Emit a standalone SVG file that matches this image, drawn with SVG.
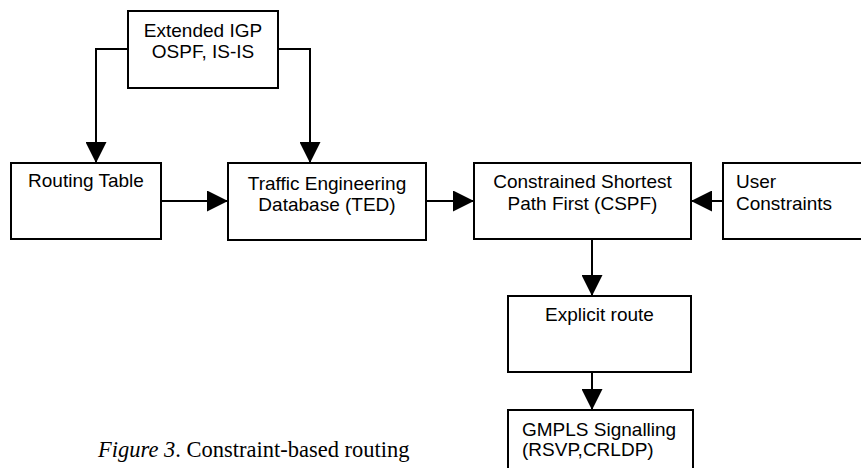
<svg xmlns="http://www.w3.org/2000/svg" width="861" height="468" viewBox="0 0 861 468">
<style>
.box{fill:#fff;stroke:#000;stroke-width:2}
.lbl{font-family:"Liberation Sans",Arial,sans-serif;font-size:19px;fill:#000}
.c{text-anchor:middle}
.con{fill:none;stroke:#000;stroke-width:2}
.cap{font-family:"Liberation Serif","Times New Roman",serif;font-size:22.5px;fill:#000}
</style>
<defs>
<marker id="ah" markerUnits="userSpaceOnUse" markerWidth="21" markerHeight="21" refX="20" refY="10" orient="auto" viewBox="0 0 20 20">
<path d="M0,0 L20,10 L0,20 z" fill="#000"/>
</marker>
</defs>
<rect width="861" height="468" fill="#fff"/>
<g id="connectors">
<path class="con" d="M128,49 H96 V163" marker-end="url(#ah)"/>
<path class="con" d="M278,49 H310 V163" marker-end="url(#ah)"/>
<path class="con" d="M161,201 H228" marker-end="url(#ah)"/>
<path class="con" d="M426,201 H474" marker-end="url(#ah)"/>
<path class="con" d="M723,201 H691" marker-end="url(#ah)"/>
<path class="con" d="M592,239 V296" marker-end="url(#ah)"/>
<path class="con" d="M592,372 V410" marker-end="url(#ah)"/>
</g>
<g id="igp">
<rect class="box" x="128" y="11" width="150" height="77"/>
<text class="lbl c" x="203" y="37">Extended IGP</text>
<text class="lbl c" x="203" y="58">OSPF, IS-IS</text>
</g>
<g id="routing-table">
<rect class="box" x="11" y="163" width="150" height="76"/>
<text class="lbl c" x="86" y="187">Routing Table</text>
</g>
<g id="ted">
<rect class="box" x="228" y="163" width="198" height="77"/>
<text class="lbl c" x="327" y="190">Traffic Engineering</text>
<text class="lbl c" x="327" y="211">Database (TED)</text>
</g>
<g id="cspf">
<rect class="box" x="474" y="163" width="217" height="76"/>
<text class="lbl c" x="582.5" y="188">Constrained Shortest</text>
<text class="lbl c" x="582.5" y="210">Path First (CSPF)</text>
</g>
<g id="user">
<rect class="box" x="723" y="163" width="160" height="76"/>
<text class="lbl" x="736" y="188">User</text>
<text class="lbl" x="736" y="210">Constraints</text>
</g>
<g id="explicit">
<rect class="box" x="508" y="296" width="183" height="76"/>
<text class="lbl c" x="599.5" y="321">Explicit route</text>
</g>
<g id="gmpls">
<rect class="box" x="508" y="410" width="185" height="70"/>
<text class="lbl" x="522" y="436">GMPLS Signalling</text>
<text class="lbl" x="522" y="456">(RSVP,CRLDP)</text>
</g>
<text class="cap" x="98" y="457"><tspan font-style="italic">Figure 3</tspan>. Constraint-based routing</text>
</svg>
